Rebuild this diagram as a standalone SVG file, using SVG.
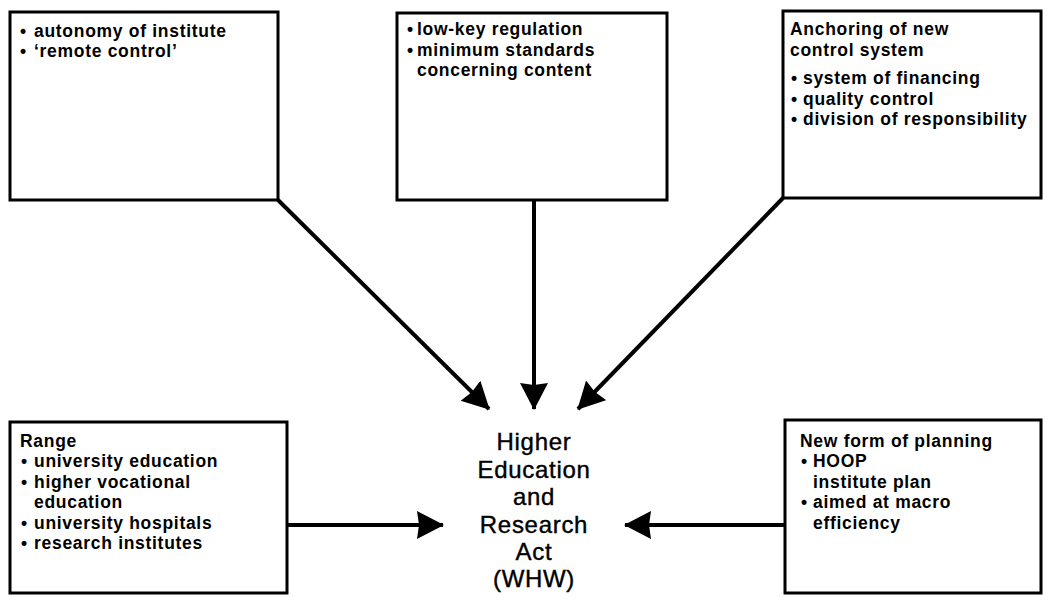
<svg xmlns="http://www.w3.org/2000/svg" width="1048" height="613" viewBox="0 0 1048 613">
  <style>
    .box { fill: #ffffff; stroke: #000000; stroke-width: 3; }
    .lbl { font-family: "Liberation Sans", Arial, sans-serif; font-size: 17.5px; font-weight: bold; letter-spacing: 0.7px; fill: #000000; }
    .act { font-family: "Liberation Sans", Arial, sans-serif; font-size: 24px; letter-spacing: 0.7px; fill: #000000; stroke: #000000; stroke-width: 0.4; text-anchor: middle; }
    .link { fill: none; stroke: #000000; stroke-width: 4; }
  </style>
  <defs>
    <marker id="head" markerUnits="userSpaceOnUse" markerWidth="32" markerHeight="30" refX="26" refY="14" orient="auto">
      <path d="M0,0 L27,14 L0,28 L2,14 Z" fill="#000000"/>
    </marker>
  </defs>
  <rect width="1048" height="613" fill="#ffffff"/>

  <g id="connectors">
    <line class="link" x1="278" y1="200" x2="489" y2="409" marker-end="url(#head)"/>
    <line class="link" x1="534" y1="200" x2="534" y2="409" stroke-width="3" marker-end="url(#head)"/>
    <line class="link" x1="783" y1="198" x2="578" y2="409" marker-end="url(#head)"/>
    <line class="link" x1="287" y1="525" x2="443" y2="525" stroke-width="3" marker-end="url(#head)"/>
    <line class="link" x1="785" y1="525" x2="625" y2="525" stroke-width="3" marker-end="url(#head)"/>
  </g>

  <g id="autonomy">
    <rect class="box" x="10" y="12" width="268" height="188"/>
    <text class="lbl" x="20" y="37">•</text><text class="lbl" x="34" y="37">autonomy of institute</text>
    <text class="lbl" x="20" y="57">•</text><text class="lbl" x="34" y="57">‘remote control’</text>
  </g>

  <g id="regulation">
    <rect class="box" x="397" y="13" width="270" height="187"/>
    <text class="lbl" x="407" y="35">•</text><text class="lbl" x="417" y="35">low-key regulation</text>
    <text class="lbl" x="407" y="56">•</text><text class="lbl" x="417" y="56">minimum standards</text>
    <text class="lbl" x="417" y="76">concerning content</text>
  </g>

  <g id="anchoring">
    <rect class="box" x="783" y="11" width="258" height="187"/>
    <text class="lbl" x="790" y="35">Anchoring of new</text>
    <text class="lbl" x="790" y="56">control system</text>
    <text class="lbl" x="791" y="84">•</text><text class="lbl" x="803" y="84">system of financing</text>
    <text class="lbl" x="791" y="105">•</text><text class="lbl" x="803" y="105">quality control</text>
    <text class="lbl" x="791" y="125">•</text><text class="lbl" x="803" y="125">division of responsibility</text>
  </g>

  <g id="range">
    <rect class="box" x="10" y="422" width="277" height="171"/>
    <text class="lbl" x="20" y="447">Range</text>
    <text class="lbl" x="21" y="467">•</text><text class="lbl" x="34" y="467">university education</text>
    <text class="lbl" x="21" y="488">•</text><text class="lbl" x="34" y="488">higher vocational</text>
    <text class="lbl" x="34" y="508">education</text>
    <text class="lbl" x="21" y="529">•</text><text class="lbl" x="34" y="529">university hospitals</text>
    <text class="lbl" x="21" y="549">•</text><text class="lbl" x="34" y="549">research institutes</text>
  </g>

  <g id="planning">
    <rect class="box" x="785" y="420" width="256" height="173"/>
    <text class="lbl" x="800" y="447">New form of planning</text>
    <text class="lbl" x="801" y="467">•</text><text class="lbl" x="813" y="467">HOOP</text>
    <text class="lbl" x="813" y="488">institute plan</text>
    <text class="lbl" x="801" y="508">•</text><text class="lbl" x="813" y="508">aimed at macro</text>
    <text class="lbl" x="813" y="529">efficiency</text>
  </g>

  <g id="whw">
    <text class="act" x="534" y="450">Higher</text>
    <text class="act" x="534" y="478">Education</text>
    <text class="act" x="534" y="505">and</text>
    <text class="act" x="534" y="533">Research</text>
    <text class="act" x="534" y="560">Act</text>
    <text class="act" x="534" y="587">(WHW)</text>
  </g>
</svg>
